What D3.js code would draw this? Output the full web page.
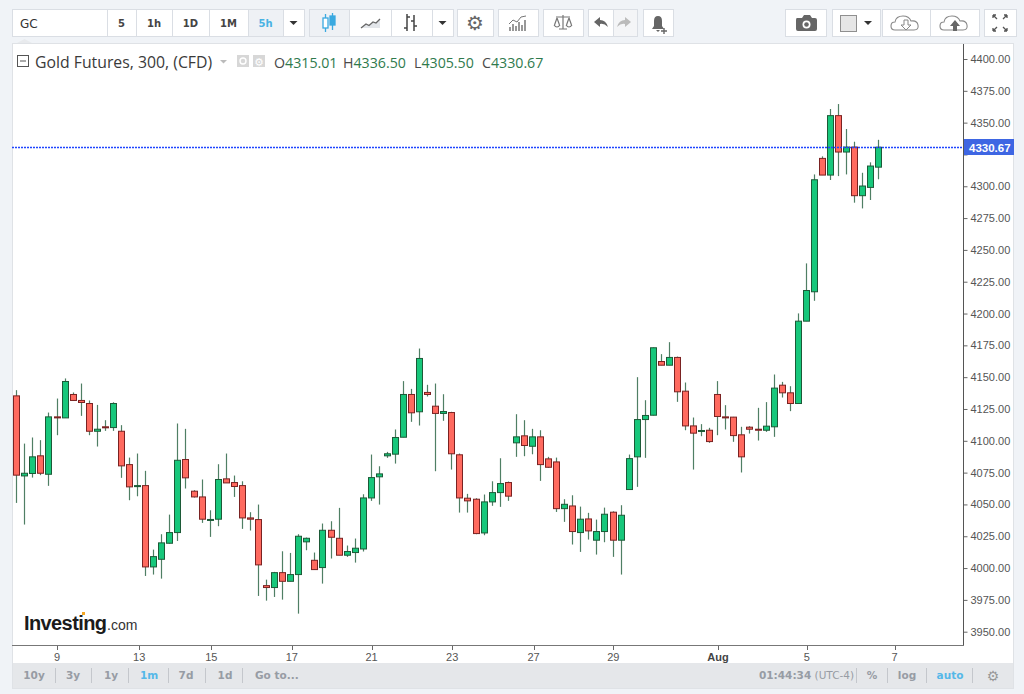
<!DOCTYPE html>
<html lang="en">
<head>
<meta charset="utf-8">
<title>Gold Futures, 300, (CFD)</title>
<script src="https://cdn.jsdelivr.net/npm/d3@7/dist/d3.min.js"></script>
<style>
  body { margin: 0; background: #f0f3f7; }
  svg { display: block; }
</style>
</head>
<body>
<script>
// 5h candles (oldest first)
var opens  = [4135.3,4072.4,4074.3,4088.2,4073.7,4118.8,4118.0,4136.4,4131.7,4129.3,
              4107.5,4111.0,4110.4,4107.5,4081.3,4064.0,4064.8,4000.9,4006.9,4019.5,
              4027.9,4085.3,4060.4,4055.9,4038.0,4038.4,4070.1,4067.2,4064.8,4039.4,
              4038.1,3986.2,3984.7,3996.4,3989.6,3994.9,4020.6,4006.1,4000.4,4029.7,
              4023.4,4010.1,4012.2,4015.0,4055.1,4071.7,4088.2,4089.5,4102.8,4136.4,
              4122.8,4138.0,4127.2,4121.5,4122.2,4089.0,4054.9,4054.1,4027.6,4052.0,
              4059.3,4067.2,4098.4,4103.9,4095.7,4103.1,4085.8,4083.4,4046.7,4048.8,
              4027.9,4038.6,4021.9,4028.7,4043.9,4021.9,4061.7,4087.4,4116.7,4120.1,
              4162.3,4159.4,4165.5,4139.0,4111.7,4107.3,4108.3,4136.4,4118.8,4118.6,
              4104.7,4110.7,4109.1,4108.3,4111.0,4143.7,4137.7,4129.3,4194.0,4217.1,
              4321.9,4308.8,4355.5,4326.9,4330.8,4292.6,4299.1,4315.01];
var highs  = [4139.8,4097.8,4102.6,4100.5,4122.2,4133.2,4149.0,4138.0,4145.0,4131.7,
              4128.2,4116.2,4130.3,4112.3,4086.8,4090.0,4076.4,4014.5,4026.6,4042.0,
              4113.6,4109.4,4061.2,4069.6,4045.4,4081.6,4090.0,4072.7,4068.2,4043.9,
              4049.9,3990.9,3997.0,4013.2,4011.9,4026.6,4024.0,4012.2,4035.0,4036.8,
              4047.3,4017.7,4023.2,4058.0,4089.2,4080.0,4091.3,4108.9,4146.9,4140.8,
              4172.5,4144.0,4145.0,4136.6,4122.8,4090.0,4058.3,4054.9,4057.8,4068.2,
              4086.3,4068.0,4120.9,4116.2,4109.4,4108.3,4087.4,4086.8,4054.1,4057.2,
              4048.3,4043.4,4038.1,4047.5,4044.6,4049.4,4089.2,4150.0,4131.9,4173.3,
              4168.1,4177.5,4166.2,4145.8,4118.3,4113.1,4110.2,4146.9,4128.0,4118.8,
              4111.0,4111.5,4125.9,4130.4,4152.1,4146.3,4142.9,4200.1,4239.4,4309.3,
              4323.5,4360.7,4364.6,4345.0,4335.0,4310.6,4318.8,4336.50];
var lows   = [4051.2,4034.2,4071.1,4073.0,4064.6,4104.4,4118.0,4131.7,4119.6,4104.4,
              4095.5,4107.8,4107.8,4070.9,4053.3,4056.4,3993.8,3994.9,3991.7,4019.2,
              4021.3,4062.5,4055.4,4035.5,4024.5,4032.9,4066.9,4055.9,4030.8,4029.5,
              3978.1,3974.4,3977.3,3975.2,3989.6,3964.2,4014.0,3998.8,3987.8,4007.5,
              4010.1,4008.8,4004.3,4013.0,4052.8,4049.9,4086.6,4082.1,4102.8,4114.9,
              4112.0,4134.8,4076.1,4115.7,4077.4,4043.6,4043.6,4026.6,4025.8,4048.9,
              4048.1,4052.8,4087.4,4087.9,4089.4,4068.5,4078.7,4044.1,4036.3,4018.5,
              4012.7,4022.4,4010.6,4020.3,4008.8,3994.9,4061.7,4063.8,4086.6,4119.9,
              4159.4,4159.4,4130.6,4108.3,4077.4,4103.6,4098.4,4104.4,4108.9,4099.2,
              4075.1,4105.7,4100.2,4107.0,4103.1,4134.0,4123.3,4129.3,4194.0,4210.0,
              4308.8,4304.9,4308.0,4309.3,4287.1,4282.6,4289.2,4305.50];
var closes = [4073.0,4074.5,4087.4,4074.5,4118.8,4118.0,4146.6,4131.7,4130.1,4107.5,
              4109.1,4110.2,4129.3,4080.3,4063.8,4064.8,4000.9,4009.0,4019.8,4027.9,
              4084.7,4070.9,4055.9,4038.4,4038.2,4069.6,4066.9,4064.1,4039.4,4038.4,
              4002.5,3984.7,3996.4,3989.6,3994.9,4025.0,4023.4,3998.8,4029.7,4024.2,
              4010.1,4013.0,4015.6,4055.1,4071.1,4074.0,4089.8,4102.6,4136.4,4122.0,
              4164.7,4136.4,4121.5,4123.0,4089.8,4055.1,4052.8,4027.1,4052.0,4059.3,
              4066.4,4056.5,4103.1,4096.3,4103.1,4081.3,4079.2,4046.7,4050.1,4028.7,
              4038.4,4029.2,4028.7,4042.3,4021.9,4041.5,4086.0,4116.7,4119.9,4173.1,
              4159.4,4165.5,4138.5,4111.7,4106.0,4108.1,4099.4,4119.1,4118.0,4104.1,
              4087.4,4109.1,4108.3,4111.5,4141.4,4137.7,4129.3,4194.0,4218.1,4305.1,
              4308.8,4355.5,4326.9,4330.8,4292.6,4300.2,4315.9,4330.67];

// date labels on the time axis and the bar index where each one sits
var dateLabels = ["9","13","15","17","21","23","27","29","Aug","5","7"];
var dateIndex  = [5.05, 15.25, 24.2, 34.2, 44.1, 54.1, 64.2, 74.1, 87.1, 98.1, 109];
var priceTicks = d3.range(3950, 4401, 25);
var lastPrice  = 4330.67;

var w = 1024, h = 694;
var plotL = 12, plotR = 963, plotT = 44, plotB = 645;
var axisFont = "'Liberation Sans', Arial, sans-serif";
var uiFont = "'DejaVu Sans', Verdana, sans-serif";

var candles = opens.map(function(o, i) {
  return { i: i, o: o, h: highs[i], l: lows[i], c: closes[i] };
});

var x = d3.scaleLinear().domain([-0.53, 117.5]).range([plotL, plotR]);
var y = d3.scaleLinear().domain([3950, 4400]).range([631.7, 59]);

var svg = d3.select("body").append("svg")
  .attr("width", w)
  .attr("height", h);

svg.append("rect").attr("width", w).attr("height", h).attr("fill", "#f0f3f7");

// ---------- toolbar ----------
var tb = svg.append("g");
function button(x0, x1, fill) {
  tb.append("rect")
    .attr("x", x0 + 0.5).attr("y", 9.5)
    .attr("width", x1 - x0).attr("height", 27)
    .attr("fill", fill || "#fff")
    .attr("stroke", "#dadee4");
}
button(12, 107);
button(107, 136); button(136, 172); button(172, 209); button(209, 248);
button(248, 283, "#eef1f5"); button(283, 304);
button(309, 349, "#eef1f5"); button(349, 391); button(391, 432); button(432, 453);
button(457, 493);
button(498, 538);
button(543, 583);
button(588, 613); button(613, 637, "#f4f5f7");
button(643, 673);
button(785, 826);
button(832, 880);
button(882, 930); button(930, 979);
button(984, 1016);

tb.append("text").attr("x", 20).attr("y", 28)
  .attr("font-family", uiFont).attr("font-size", 12).attr("fill", "#333")
  .text("GC");

var intervals = [["5", 121.5], ["1h", 154], ["1D", 190.5], ["1M", 228.5], ["5h", 265.5]];
tb.selectAll("text.iv")
  .data(intervals)
  .enter()
  .append("text")
  .attr("class", "iv")
  .attr("x", function(d) { return d[1]; })
  .attr("y", 27)
  .attr("text-anchor", "middle")
  .attr("font-family", uiFont)
  .attr("font-size", 10)
  .attr("font-weight", "bold")
  .attr("fill", function(d) { return d[0] === "5h" ? "#48b2e3" : "#444"; })
  .text(function(d) { return d[0]; });

function caret(cx) {
  tb.append("path")
    .attr("d", "M" + (cx - 4) + ",21 L" + (cx + 4) + ",21 L" + cx + ",25 Z")
    .attr("fill", "#333");
}
caret(293.5); caret(442.5); caret(868);

// candle icon
var ci = tb.append("g").attr("stroke", "#3aa9e0").attr("fill", "none").attr("stroke-width", 1.3);
ci.append("line").attr("x1", 325.5).attr("x2", 325.5).attr("y1", 14).attr("y2", 32);
ci.append("rect").attr("x", 323).attr("y", 18).attr("width", 5).attr("height", 10).attr("fill", "#fff");
ci.append("line").attr("x1", 332.5).attr("x2", 332.5).attr("y1", 13).attr("y2", 30);
ci.append("rect").attr("x", 330).attr("y", 16).attr("width", 5).attr("height", 9).attr("fill", "#3aa9e0");

// line icon
tb.append("path").attr("d", "M361,28 L366,24 L369,25.5 L373,22 L376,23 L380,19 L380,28 Z")
  .attr("fill", "#e3e6ea");
tb.append("path").attr("d", "M361,28 L366,24 L369,25.5 L373,22 L376,23 L380,19")
  .attr("fill", "none").attr("stroke", "#666").attr("stroke-width", 1.3);

// bars icon
tb.append("path")
  .attr("d", "M407,14 L407,31 M404,28 L407,28 M407,17 L410,17 M414,15 L414,31 M411,21 L414,21 M414,26 L417,26")
  .attr("stroke", "#444").attr("stroke-width", 1.5).attr("fill", "none");

// gear
tb.append("text").attr("x", 475).attr("y", 30).attr("text-anchor", "middle")
  .attr("font-family", uiFont).attr("font-size", 20).attr("fill", "#666").text("\u2699");

// indicators icon
tb.append("path")
  .attr("d", "M510,31 L510,27 M513,31 L513,24 M516,31 L516,26 M519,31 L519,22 M522,31 L522,25 M525,31 L525,20")
  .attr("stroke", "#777").attr("stroke-width", 1.5);
tb.append("path").attr("d", "M509,24 L513,20 L517,22 L521,17 L526,16")
  .attr("stroke", "#777").attr("fill", "none").attr("stroke-width", 1);

// scales icon
tb.append("path")
  .attr("d", "M556,17 L570,17 M563,15 L563,29 M559,29 L567,29 M557,18 L554.5,25 M557,18 L559.5,25 M569,18 L566.5,25 M569,18 L571.5,25 M554,25 Q557,29 560,25 M566,25 Q569,29 572,25")
  .attr("stroke", "#777").attr("fill", "none").attr("stroke-width", 1.2);

// undo / redo
tb.append("path").attr("d", "M594,22 L600,17 L600,20 Q606,20 608,27 Q604,23 600,24 L600,27 Z")
  .attr("fill", "#666");
tb.append("path").attr("d", "M631,22 L625,17 L625,20 Q619,20 617,27 Q621,23 625,24 L625,27 Z")
  .attr("fill", "#bbb");

// alert bell
tb.append("path").attr("d", "M652,29 L664,29 L662,26 L662,21 Q662,16 658,16 Q654,16 654,21 L654,26 Z M656,30 L660,30 L658,32 Z")
  .attr("fill", "#666");
tb.append("path").attr("d", "M664,28 L664,34 M661,31 L667,31").attr("stroke", "#666").attr("stroke-width", 1.4);

// camera
tb.append("path").attr("d", "M797,18 L802,18 L804,15 L810,15 L812,18 L815,18 Q817,18 817,20 L817,29 Q817,31 815,31 L798,31 Q796,31 796,29 L796,20 Q796,18 797,18 Z")
  .attr("fill", "#666");
tb.append("circle").attr("cx", 806.5).attr("cy", 24.5).attr("r", 4).attr("fill", "#fff");
tb.append("circle").attr("cx", 806.5).attr("cy", 24.5).attr("r", 2.3).attr("fill", "#666");

// colour box
tb.append("rect").attr("x", 840.5).attr("y", 15.5).attr("width", 16).attr("height", 16)
  .attr("fill", "#e6e6e6").attr("stroke", "#8f8f8f");

// clouds
var cloud = "M-11,6 Q-15,6 -15,2 Q-15,-2 -11,-2 Q-10,-8 -3,-8 Q3,-8 5,-3 Q11,-4 12,1 Q13,6 8,6 Z";
tb.append("path").attr("transform", "translate(906,24)").attr("d", cloud)
  .attr("fill", "none").attr("stroke", "#888").attr("stroke-width", 1.1);
tb.append("path").attr("d", "M904,20 L908,20 L908,25 L911,25 L906,30 L901,25 L904,25 Z")
  .attr("fill", "#fff").attr("stroke", "#888").attr("stroke-width", 1);
tb.append("path").attr("transform", "translate(955,24)").attr("d", cloud)
  .attr("fill", "none").attr("stroke", "#888").attr("stroke-width", 1.1);
tb.append("path").attr("d", "M953,31 L957,31 L957,26 L960,26 L955,20 L950,26 L953,26 Z")
  .attr("fill", "#666");

// full screen
tb.append("path")
  .attr("d", "M993,15 L997,19 M993,15 L996,15 M993,15 L993,18 M1007,15 L1003,19 M1007,15 L1004,15 M1007,15 L1007,18 M993,31 L997,27 M993,31 L996,31 M993,31 L993,28 M1007,31 L1003,27 M1007,31 L1004,31 M1007,31 L1007,28")
  .attr("stroke", "#555").attr("stroke-width", 1.3).attr("fill", "none");

// ---------- chart frame ----------
svg.append("rect")
  .attr("x", plotL + 0.5).attr("y", 43.5)
  .attr("width", 1013 - plotL).attr("height", 688 - 43)
  .attr("fill", "#fff").attr("stroke", "#dfe2e6");

svg.append("path").attr("d", "M17,43 L32,43 L24.5,39 Z").attr("fill", "#e8eaed");

// ---------- legend ----------
var lg = svg.append("g");
lg.append("rect").attr("x", 17.5).attr("y", 55.5).attr("width", 11).attr("height", 11)
  .attr("fill", "none").attr("stroke", "#555");
lg.append("line").attr("x1", 20).attr("x2", 26).attr("y1", 61).attr("y2", 61).attr("stroke", "#555");
lg.append("text").attr("x", 35).attr("y", 68)
  .attr("font-family", "'Open Sans', sans-serif").attr("font-size", 15.8).attr("fill", "#3a3a3a")
  .text("Gold Futures, 300, (CFD)");
lg.append("path").attr("d", "M220,60 L227,60 L223.5,63.5 Z").attr("fill", "#bbb");
lg.append("rect").attr("x", 237).attr("y", 55).attr("width", 12).attr("height", 12).attr("fill", "#d7d7d7");
lg.append("circle").attr("cx", 243).attr("cy", 61).attr("r", 3).attr("fill", "none").attr("stroke", "#fff").attr("stroke-width", 1.4);
lg.append("rect").attr("x", 253).attr("y", 55).attr("width", 12).attr("height", 12).attr("fill", "#d7d7d7");
lg.append("text").attr("x", 259).attr("y", 65.5).attr("text-anchor", "middle")
  .attr("font-family", uiFont).attr("font-size", 11).attr("fill", "#fff").text("\u2699");

var ohlc = [["O", opens[opens.length - 1], 274], ["H", highs[highs.length - 1], 343],
            ["L", lows[lows.length - 1], 414], ["C", closes[closes.length - 1], 482]];
var ohlcText = lg.selectAll("text.ohlc")
  .data(ohlc)
  .enter()
  .append("text")
  .attr("class", "ohlc")
  .attr("x", function(d) { return d[2]; })
  .attr("y", 67.5)
  .attr("font-family", "'Open Sans', sans-serif")
  .attr("font-size", 14.2);
ohlcText.append("tspan").attr("fill", "#4a4a4a").text(function(d) { return d[0]; });
ohlcText.append("tspan").attr("fill", "#2f7a4d").text(function(d) { return d[1].toFixed(2); });

// ---------- watermark ----------
svg.append("text").attr("x", 24).attr("y", 630)
  .attr("font-family", axisFont).attr("font-size", 20).attr("font-weight", "bold")
  .attr("fill", "#1b1b1b").attr("letter-spacing", -0.6)
  .text("Investing");
svg.append("text").attr("x", 107).attr("y", 630)
  .attr("font-family", axisFont).attr("font-size", 14).attr("fill", "#333")
  .text(".com");
svg.append("rect").attr("x", 82).attr("y", 612).attr("width", 3).attr("height", 3).attr("fill", "#f5a623");

// ---------- candles ----------
svg.append("clipPath").attr("id", "plot")
  .append("rect").attr("x", plotL).attr("y", plotT)
  .attr("width", plotR - plotL).attr("height", plotB - plotT);

var cg = svg.append("g").attr("clip-path", "url(#plot)");

cg.selectAll("line.wick")
  .data(candles)
  .enter()
  .append("line")
  .attr("class", "wick")
  .attr("x1", function(d) { return Math.round(x(d.i)) + 0.5; })
  .attr("x2", function(d) { return Math.round(x(d.i)) + 0.5; })
  .attr("y1", function(d) { return y(d.h); })
  .attr("y2", function(d) { return y(d.l); })
  .attr("stroke", "#4f7f64")
  .attr("stroke-width", 1.2);

cg.selectAll("rect.body")
  .data(candles)
  .enter()
  .append("rect")
  .attr("class", "body")
  .attr("x", function(d) { return Math.round(x(d.i)) - 2.5; })
  .attr("y", function(d) { return y(Math.max(d.o, d.c)); })
  .attr("width", 6)
  .attr("height", function(d) { return Math.max(1, y(Math.min(d.o, d.c)) - y(Math.max(d.o, d.c))); })
  .attr("fill", function(d) { return d.c >= d.o ? "#17c77b" : "#ff6a5f"; })
  .attr("stroke", function(d) { return d.c >= d.o ? "#1c5a37" : "#7a2222"; })
  .attr("stroke-width", 1);

// last price line
var ly = Math.round(y(lastPrice));
cg.append("line")
  .attr("x1", plotL).attr("x2", plotR)
  .attr("y1", ly + 0.5).attr("y2", ly + 0.5)
  .attr("stroke", "#1f45ff")
  .attr("stroke-width", 1.3)
  .attr("stroke-dasharray", "2,1");

// ---------- price axis ----------
// the 4325 label sits under the last-price box, so only its tick is drawn
var yAxis = d3.axisRight(y)
  .tickValues(priceTicks)
  .tickSize(4)
  .tickPadding(3)
  .tickFormat(function(d) { return Math.abs(d - lastPrice) < 10 ? "" : d3.format(".2f")(d); });

var ya = svg.append("g")
  .attr("transform", "translate(" + (plotR + 0.5) + ",0)")
  .call(yAxis);
ya.select(".domain").remove();
ya.selectAll("line").attr("stroke", "#666");
ya.selectAll("text").attr("font-family", axisFont).attr("font-size", 11).attr("fill", "#555");

svg.append("line").attr("x1", plotR + 0.5).attr("x2", plotR + 0.5)
  .attr("y1", plotT).attr("y2", plotB + 1).attr("stroke", "#555");

// last price label
svg.append("rect").attr("x", plotR + 1).attr("y", ly - 8)
  .attr("width", 50).attr("height", 16).attr("fill", "#3e66e3");
svg.append("text").attr("x", plotR + 6).attr("y", ly + 4.5)
  .attr("font-family", axisFont).attr("font-size", 11.5).attr("font-weight", "bold")
  .attr("fill", "#fff").text(lastPrice.toFixed(2));

// ---------- time axis ----------
svg.append("line").attr("x1", plotL).attr("x2", plotR + 1)
  .attr("y1", plotB + 0.5).attr("y2", plotB + 0.5).attr("stroke", "#777");

var xa = svg.append("g");
xa.selectAll("line")
  .data(dateIndex)
  .enter()
  .append("line")
  .attr("x1", function(d) { return Math.round(x(d)) + 0.5; })
  .attr("x2", function(d) { return Math.round(x(d)) + 0.5; })
  .attr("y1", plotB + 1).attr("y2", plotB + 5)
  .attr("stroke", "#666");
xa.selectAll("text")
  .data(dateLabels)
  .enter()
  .append("text")
  .attr("x", function(d, i) { return x(dateIndex[i]); })
  .attr("y", 661)
  .attr("text-anchor", "middle")
  .attr("font-family", axisFont)
  .attr("font-size", 11)
  .attr("font-weight", function(d) { return d === "Aug" ? "bold" : "normal"; })
  .attr("fill", function(d) { return d === "Aug" ? "#444" : "#555"; })
  .text(function(d) { return d; });

// ---------- bottom bar ----------
svg.append("rect").attr("x", plotL + 1).attr("y", 663)
  .attr("width", 1000).attr("height", 25).attr("fill", "#e5e7ea");

var ranges = [["10y", 34], ["3y", 73], ["1y", 111], ["1m", 149], ["7d", 186], ["1d", 225]];
var sepLeft = [55, 91, 128, 168, 205, 242];
var sepRight = [856, 887, 926, 972];

svg.selectAll("text.rng")
  .data(ranges)
  .enter()
  .append("text")
  .attr("class", "rng")
  .attr("x", function(d) { return d[1]; })
  .attr("y", 679)
  .attr("text-anchor", "middle")
  .attr("font-family", uiFont)
  .attr("font-size", 10.5)
  .attr("font-weight", "bold")
  .attr("fill", function(d) { return d[0] === "1m" ? "#55b8e8" : "#979ca4"; })
  .text(function(d) { return d[0]; });

svg.selectAll("line.sep")
  .data(sepLeft.concat(sepRight))
  .enter()
  .append("line")
  .attr("class", "sep")
  .attr("x1", function(d) { return d + 0.5; })
  .attr("x2", function(d) { return d + 0.5; })
  .attr("y1", 668).attr("y2", 683)
  .attr("stroke", "#c4c7cc");

svg.append("text").attr("x", 255).attr("y", 679)
  .attr("font-family", uiFont).attr("font-size", 10.5).attr("font-weight", "bold")
  .attr("fill", "#979ca4").text("Go to...");

svg.append("text").attr("x", 759).attr("y", 679)
  .attr("font-family", uiFont).attr("font-size", 10.5).attr("fill", "#979ca4")
  .html("<tspan font-weight='bold'>01:44:34</tspan> (UTC-4)");

var rightItems = [["%", 872, "#979ca4"], ["log", 907, "#979ca4"], ["auto", 950, "#55b8e8"]];
svg.selectAll("text.ri")
  .data(rightItems)
  .enter()
  .append("text")
  .attr("class", "ri")
  .attr("x", function(d) { return d[1]; })
  .attr("y", 679)
  .attr("text-anchor", "middle")
  .attr("font-family", uiFont)
  .attr("font-size", 10.5)
  .attr("font-weight", "bold")
  .attr("fill", function(d) { return d[2]; })
  .text(function(d) { return d[0]; });

svg.append("text").attr("x", 993).attr("y", 681).attr("text-anchor", "middle")
  .attr("font-family", uiFont).attr("font-size", 14).attr("fill", "#999").text("\u2699");
</script>
</body>
</html>
